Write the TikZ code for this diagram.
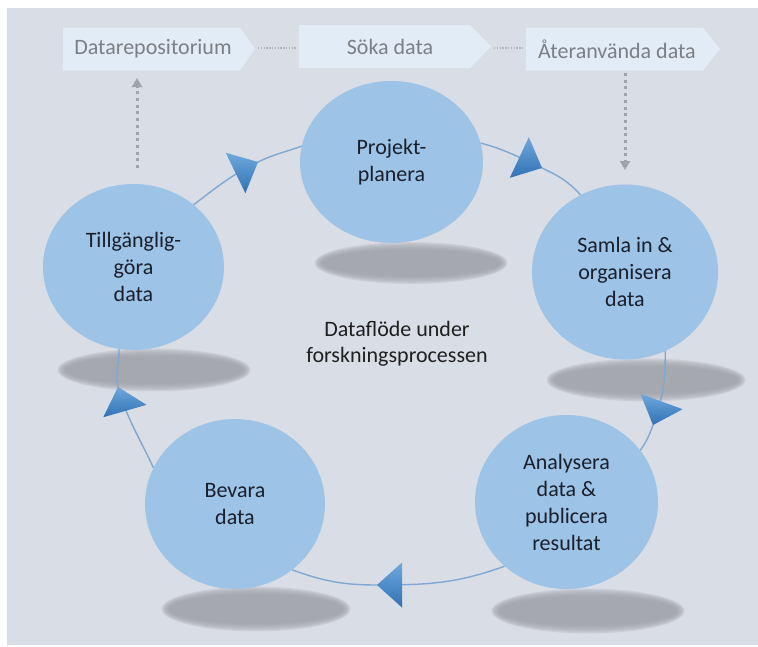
\documentclass[tikz,border=0pt]{standalone}
\usepackage{fontspec}
\setmainfont{Carlito}
\usetikzlibrary{shapes.geometric,arrows.meta}

\definecolor{bgc}{HTML}{D9DDE5}
\definecolor{circc}{HTML}{9DC3E6}
\definecolor{shadowc}{HTML}{9EA1A7}
\definecolor{bannerc}{HTML}{E2ECF6}
\definecolor{bannertext}{HTML}{7B7F86}
\definecolor{linkc}{HTML}{7FA8D2}
\definecolor{arrowlight}{HTML}{6FA8DC}
\definecolor{arrowdark}{HTML}{2F72B5}
\definecolor{dotc}{HTML}{A0A3A9}
\definecolor{textc}{HTML}{1A1F2B}

% triangular arrowhead on the cycle: tip at #1, pointing at angle #2
\newcommand\cyclehead[2]{%
  \shade[headfill, shift={(#1)}, rotate=#2] (0,0) -- (-25,22.5) -- (-25,-22.5) -- cycle;}
% soft grey shadow ellipse below a stage: centre (#1,#2), radii #3 and #4
\newcommand\softshadow[4]{%
  \foreach \k in {0,...,7} {%
    \fill[shadowc, opacity=0.22] (#1,#2) ellipse ({#3+4.5-1.2*\k} and {#4+4.5-1.2*\k});}}

\begin{document}
\begin{tikzpicture}[x=1pt,y=1pt,
  stage/.style={ellipse, fill=circc, inner sep=0pt, align=center, text=textc,
    font=\fontsize{22}{27}\selectfont},
  banner/.style={fill=bannerc},
  bannerlabel/.style={text=bannertext, inner sep=0pt, font=\fontsize{22}{26}\selectfont},
  link/.style={draw=linkc, line width=1.4pt},
  headfill/.style={top color=arrowlight, bottom color=arrowdark},
  dotline/.style={draw=dotc!70!bgc, line width=1.4pt, dash pattern=on 1.4pt off 1.4pt},
  dotarrow/.style={draw=dotc, line width=3pt, dash pattern=on 3pt off 3.7pt,
    -{Triangle[width=10pt,length=9pt]}},
]
% canvas
\useasboundingbox (0,0) rectangle (758,-646);
\fill[white] (0,0) rectangle (758,-646);
\fill[bgc] (7,-8) rectangle (758,-645);

% top row of pointed banners
\fill[banner] (63,-27.5) -- (240,-27.5) -- (255,-49) -- (240,-70.5) -- (63,-70.5) -- cycle;
\fill[banner] (299,-25) -- (470,-25) -- (491,-46.5) -- (470,-68) -- (299,-68) -- cycle;
\fill[banner] (526,-27.5) -- (703,-27.5) -- (720,-49) -- (703,-70.5) -- (526,-70.5) -- cycle;
\node[bannerlabel] (repo) at (153,-49) {Datarepositorium};
\node[bannerlabel] (search) at (390,-47) {Söka data};
\node[bannerlabel] (reuse) at (617,-49) {Återanvända data};

\coordinate (repoTip) at (258,-48);
\coordinate (searchIn) at (297,-48);
\coordinate (searchTip) at (494,-48);
\coordinate (reuseIn) at (524,-48);
\draw[dotline] (repoTip) -- (searchIn);
\draw[dotline] (searchTip) -- (reuseIn);

% shadows under the stages
\softshadow{411}{-263}{92}{16.5}
\softshadow{646}{-380}{95}{17}
\softshadow{588}{-611}{92}{18}
\softshadow{256}{-609}{90}{18}
\softshadow{154}{-370}{92}{17}

% stages of the cycle
\node[stage, minimum width=183pt, minimum height=162pt] (P) at (391.5,-162) {Projekt-\\planera};
\node[stage, minimum width=186pt, minimum height=175pt] (S) at (625,-272) {Samla in \&\\organisera\\data};
\node[stage, minimum width=183pt, minimum height=174pt] (A) at (566.5,-502) {Analysera\\data \&\\publicera\\resultat};
\node[stage, minimum width=180pt, minimum height=170pt] (B) at (235,-504) {Bevara\\data};
\node[stage, minimum width=181pt, minimum height=166pt] (T) at (133.5,-267) {Tillgänglig-\\göra\\data};

\node[align=center, text=black!88, inner sep=0pt, font=\fontsize{22}{26}\selectfont]
  (flow) at (397,-344) {Dataflöde under\\forskningsprocessen};

% dotted links to the banner row
\coordinate (tUp) at (137,-168);
\coordinate (repoBelow) at (137,-78);
\coordinate (reuseBelow) at (625,-73);
\coordinate (sAbove) at (625,-170);
\draw[dotarrow] (tUp) -- (repoBelow);
\draw[dotarrow] (reuseBelow) -- (sAbove);

% cycle arcs with their arrowheads
\coordinate (tipPS) at (542,-168);
\coordinate (tipSA) at (653,-425);
\coordinate (tipAB) at (377,-585);
\coordinate (tipBT) at (118,-387);
\coordinate (tipTP) at (258,-162);

\draw[link] (P.12) to[out=-15,in=155] (tipPS) to[out=-25,in=132] (S.120);
\draw[link] (S.-63) to[out=-90,in=70] (tipSA) to[out=-110,in=55] (A.35);
\draw[link] (A.-134) to[out=-160,in=0] (tipAB) to[out=180,in=-20] (B.-49);
\draw[link] (B.156) to[out=115,in=-74] (tipBT) to[out=106,in=-88] (T.-100);
\draw[link] (T.46) to[out=37,in=-154] (tipTP) to[out=26,in=-160] (P.170);

\cyclehead{tipPS}{-25}
\cyclehead{tipSA}{-110}
\cyclehead{tipAB}{180}
\cyclehead{tipBT}{106}
\cyclehead{tipTP}{26}
\end{tikzpicture}
\end{document}
